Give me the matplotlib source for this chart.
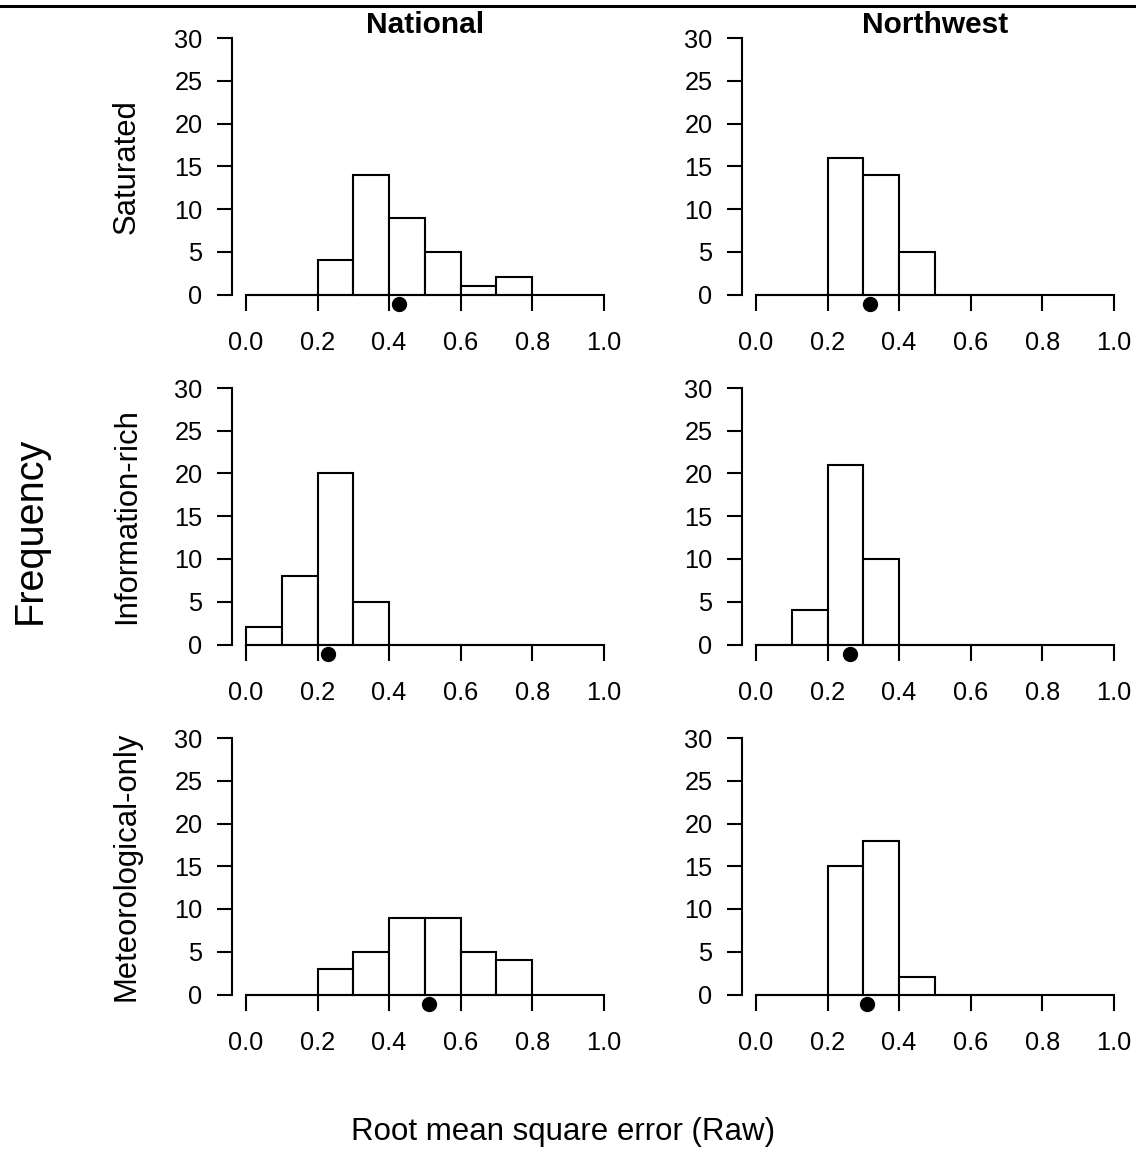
import matplotlib
matplotlib.use("Agg")
import matplotlib.pyplot as plt
from matplotlib.lines import Line2D

plt.rcParams["font.family"] = ["Liberation Sans", "DejaVu Sans"]

# bins of width 0.1 from 0.0 to 0.8
BIN_LEFTS = [0.0, 0.1, 0.2, 0.3, 0.4, 0.5, 0.6, 0.7]
BIN_WIDTH = 0.1

COLUMNS = ["National", "Northwest"]
ROWS = ["Saturated", "Information-rich", "Meteorological-only"]

sat_national = [0, 0, 4, 14, 9, 5, 1, 2]
sat_northwest = [0, 0, 16, 14, 5, 0, 0, 0]
info_national = [2, 8, 20, 5, 0, 0, 0, 0]
info_northwest = [0, 4, 21, 10, 0, 0, 0, 0]
met_national = [0, 0, 3, 5, 9, 9, 5, 4]
met_northwest = [0, 0, 15, 18, 2, 0, 0, 0]

# mean RMSE marked by the dot under each histogram
mean_national = [0.427, 0.229, 0.511]
mean_northwest = [0.319, 0.263, 0.310]

COUNTS = [[sat_national, sat_northwest],
          [info_national, info_northwest],
          [met_national, met_northwest]]
MEANS = [[mean_national[i], mean_northwest[i]] for i in range(3)]

X_TICKS = [0.0, 0.2, 0.4, 0.6, 0.8, 1.0]
Y_TICKS = [0, 5, 10, 15, 20, 25, 30]

W, H = 1136, 1152
fig = plt.figure(figsize=(W / 100, H / 100), dpi=100)

# pixel positions of data x=0 per column and data y=0 / y=30 per row
COL_X0 = [246, 756]
PX_PER_X = 357.7
ROW_Y0 = [294.5, 644.5, 994.5]
ROW_Y30 = [38, 388, 738]
XMIN, XMAX = -0.04, 1.04
YMIN, YMAX = -2.0, 30.0
LW = 1.5

for r in range(3):
    py_unit = (ROW_Y0[r] - ROW_Y30[r]) / 30.0
    top_px = ROW_Y30[r]
    bot_px = ROW_Y0[r] - YMIN * py_unit
    for c in range(2):
        left_px = COL_X0[c] + XMIN * PX_PER_X
        w_px = (XMAX - XMIN) * PX_PER_X
        ax = fig.add_axes([left_px / W, 1 - bot_px / H, w_px / W, (bot_px - top_px) / H])
        ax.bar(BIN_LEFTS, COUNTS[r][c], width=BIN_WIDTH, align="edge",
               facecolor="white", edgecolor="black", linewidth=LW)
        ax.plot([MEANS[r][c]], [-1.08], "o", color="black", markersize=10,
                clip_on=False, zorder=5)
        ax.set_xlim(XMIN, XMAX)
        ax.set_ylim(YMIN, YMAX)
        for s in ("top", "right"):
            ax.spines[s].set_visible(False)
        ax.spines["left"].set_bounds(0, 30)
        ax.spines["bottom"].set_position(("data", 0))
        ax.spines["bottom"].set_bounds(0, 1)
        for s in ("left", "bottom"):
            ax.spines[s].set_linewidth(LW)
        ax.set_xticks(X_TICKS)
        ax.set_xticklabels([f"{t:.1f}" for t in X_TICKS])
        ax.set_yticks(Y_TICKS)
        ax.tick_params(axis="both", direction="out", width=LW, labelsize=18.3)
        ax.tick_params(axis="x", length=11.5, pad=15)
        ax.tick_params(axis="y", length=11, pad=10)
        ax.patch.set_visible(False)
        if r == 0:
            fig.text((COL_X0[c] + 0.5 * PX_PER_X) / W, 1 - 33 / H, COLUMNS[c],
                     ha="center", va="baseline", fontsize=21.5, fontweight="bold")
    fig.text(127 / W, 1 - (ROW_Y0[r] + ROW_Y30[r]) / 2 / H, ROWS[r],
             rotation=90, ha="center", va="center", fontsize=22.3)

fig.text(30 / W, 1 - 530 / H, "Frequency", rotation=90, ha="center",
         va="center", fontsize=28.5)
fig.text(563 / W, 1 - 1140 / H, "Root mean square error (Raw)", ha="center",
         va="baseline", fontsize=22.5)

fig.add_artist(Line2D([0, 1], [1 - 5.5 / H, 1 - 5.5 / H], color="black",
                      linewidth=2.2, transform=fig.transFigure))

fig.savefig("out.png", dpi=100)
